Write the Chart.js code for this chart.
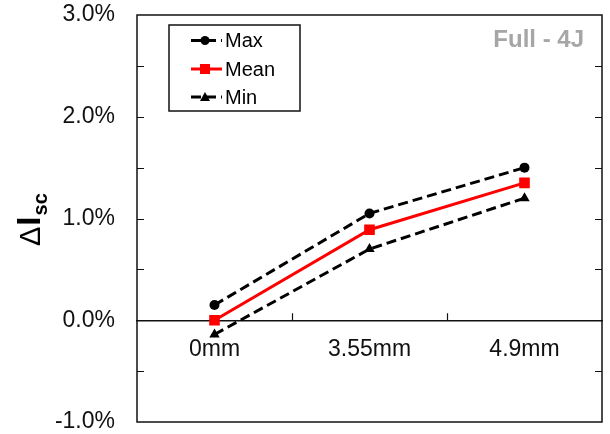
<!DOCTYPE html>
<html>
<head>
<meta charset="utf-8">
<script src="https://cdn.jsdelivr.net/npm/chart.js@4"></script>
<style>
  html, body { margin: 0; padding: 0; background: #fff; }
</style>
</head>
<body>
<canvas id="chart" width="610" height="434"></canvas>
<script>
var categories = ['0mm', '3.55mm', '4.9mm'];
var maxValues = [0.15, 1.05, 1.50];
var meanValues = [0.00, 0.89, 1.35];
var minValues = [-0.14, 0.70, 1.20];
var seriesNames = ['Max', 'Mean', 'Min'];
var panelLabel = 'Full - 4J';

var FONT = 'Arial, "Liberation Sans", sans-serif';

// frame, inner ticks, legend box, panel label and axis title
var decorations = {
  id: 'decorations',
  afterDraw: function (chart) {
    var ctx = chart.ctx;
    var a = chart.chartArea;
    var y = chart.scales.y;
    var x = chart.scales.x;
    ctx.save();

    ctx.strokeStyle = '#111';
    ctx.lineWidth = 1.5;
    ctx.strokeRect(a.left, a.top, a.right - a.left, a.bottom - a.top);

    // y ticks every 0.5% pointing inward
    ctx.lineWidth = 1.2;
    for (var v = -0.5; v < 3; v += 0.5) {
      var py = Math.round(y.getPixelForValue(v)) + 0.5;
      ctx.beginPath();
      ctx.moveTo(a.left, py);
      ctx.lineTo(a.left + 7, py);
      ctx.moveTo(a.right, py);
      ctx.lineTo(a.right - 7, py);
      ctx.stroke();
    }
    // category boundary ticks on the zero line
    var zy = y.getPixelForValue(0);
    for (var i = 0; i < categories.length - 1; i++) {
      var px = Math.round((x.getPixelForValue(i) + x.getPixelForValue(i + 1)) / 2) + 0.5;
      ctx.beginPath();
      ctx.moveTo(px, zy);
      ctx.lineTo(px, zy - 7);
      ctx.stroke();
    }

    // legend
    ctx.lineWidth = 1.5;
    ctx.strokeRect(169, 25, 131, 86);
    var rows = [40.5, 69, 97];
    chart.data.datasets.forEach(function (ds, k) {
      var ry = rows[k];
      ctx.save();
      ctx.strokeStyle = ds.borderColor;
      ctx.lineWidth = 3;
      ctx.setLineDash(ds.borderDash || []);
      ctx.beginPath();
      ctx.moveTo(191, ry);
      ctx.lineTo(222, ry);
      ctx.stroke();
      ctx.restore();
      ctx.fillStyle = ds.borderColor;
      var cx = 205;
      ctx.beginPath();
      if (ds.pointStyle === 'circle') {
        ctx.arc(cx, ry, 4.5, 0, Math.PI * 2);
      } else if (ds.pointStyle === 'rect') {
        ctx.rect(cx - 5, ry - 5, 10, 10);
      } else {
        ctx.moveTo(cx, ry - 5);
        ctx.lineTo(cx + 5, ry + 4);
        ctx.lineTo(cx - 5, ry + 4);
        ctx.closePath();
      }
      ctx.fill();
      ctx.fillStyle = '#000';
      ctx.font = '20px ' + FONT;
      ctx.textBaseline = 'middle';
      ctx.textAlign = 'left';
      ctx.fillText(ds.label, 225, ry + 1);
    });

    // panel label
    ctx.fillStyle = '#a6a6a6';
    ctx.font = 'bold 24px ' + FONT;
    ctx.textAlign = 'right';
    ctx.textBaseline = 'alphabetic';
    ctx.fillText(panelLabel, 584, 47);

    // y axis title: delta I subscript sc
    ctx.translate(40, 246);
    ctx.rotate(-Math.PI / 2);
    ctx.fillStyle = '#000';
    ctx.textAlign = 'left';
    ctx.font = '29px ' + FONT;
    ctx.fillText('\u0394', 0, 0);
    var w = ctx.measureText('\u0394').width + 1;
    ctx.font = 'bold 33px ' + FONT;
    ctx.fillText('I', w, 0);
    w += ctx.measureText('I').width + 1;
    ctx.font = 'bold 20px ' + FONT;
    ctx.fillText('sc', w, 7);

    ctx.restore();
  }
};

var datos = {
  type: 'line',
  data: {
    labels: categories,
    datasets: [{
      label: seriesNames[0],
      data: maxValues,
      borderColor: '#000',
      backgroundColor: '#000',
      borderWidth: 3,
      borderDash: [10, 5],
      pointStyle: 'circle',
      pointRadius: 5,
      pointBorderWidth: 0,
      order: 1
    }, {
      label: seriesNames[1],
      data: meanValues,
      borderColor: '#ff0000',
      backgroundColor: '#ff0000',
      borderWidth: 3,
      pointStyle: 'rect',
      pointRadius: 7.5,
      pointBorderWidth: 0,
      order: 0
    }, {
      label: seriesNames[2],
      data: minValues,
      borderColor: '#000',
      backgroundColor: '#000',
      borderWidth: 3,
      borderDash: [10, 5],
      pointStyle: 'triangle',
      pointRadius: 6,
      pointBorderWidth: 0,
      order: 1
    }]
  },
  options: {
    responsive: false,
    animation: false,
    layout: { padding: { left: 0, right: 8, top: 15, bottom: 12 } },
    plugins: { legend: { display: false }, tooltip: { enabled: false } },
    scales: {
      x: {
        type: 'category',
        offset: true,
        position: { y: 0 },
        grid: { display: false, drawTicks: false },
        border: { display: true, color: '#111', width: 1.5 },
        afterFit: function (scale) { scale.height = 0; },
        ticks: { color: '#111', padding: 16, font: { family: FONT, size: 23 } }
      },
      y: {
        min: -1,
        max: 3,
        grid: { display: false, drawTicks: false },
        border: { display: false },
        afterFit: function (scale) {
          scale.width = 137;
          scale.paddingTop = 0;
          scale.paddingBottom = 0;
        },
        ticks: {
          stepSize: 1,
          padding: 22,
          color: '#111',
          font: { family: FONT, size: 23 },
          callback: function (v) { return v.toFixed(1) + '%'; }
        }
      }
    }
  },
  plugins: [decorations]
};

var canvas = document.getElementById('chart').getContext('2d');
window.line = new Chart(canvas, datos);
</script>
</body>
</html>
